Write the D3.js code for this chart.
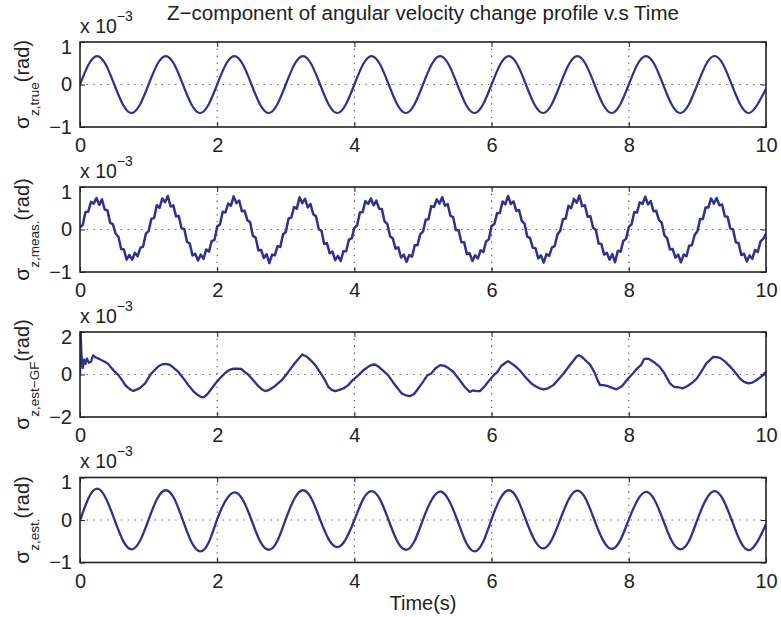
<!DOCTYPE html>
<html>
<head>
<meta charset="utf-8">
<script src="https://cdn.jsdelivr.net/npm/d3@7"></script>
<style>
  body { margin: 0; background: #fff; }
  text { font-family: "Liberation Sans", Arial, sans-serif; fill: #222; }
</style>
</head>
<body>
<svg id="chart" width="781" height="617"></svg>
<script>
// values in units of 1e-3 rad
var xTicks = [0, 2, 4, 6, 8, 10];

// true profile, sampled every 0.125 s
var trueVals = [
  0, .47, .67, .47, 0, -.47, -.67, -.47,
  0, .47, .67, .47, 0, -.47, -.67, -.47,
  0, .47, .67, .47, 0, -.47, -.67, -.47,
  0, .47, .67, .47, 0, -.47, -.67, -.47,
  0, .47, .67, .47, 0, -.47, -.67, -.47,
  0, .47, .67, .47, 0, -.47, -.67, -.47,
  0, .47, .67, .47, 0, -.47, -.67, -.47,
  0, .47, .67, .47, 0, -.47, -.67, -.47,
  0, .47, .67, .47, 0, -.47, -.67, -.47,
  0, .47, .67, .47, 0, -.47, -.67, -.47,
  -.1
];

// measured, every 0.04 s
var measVals = [
  .05, .11, .41, .42, .65, .61, .74, .58, .71, .47, .45, .16, .12, -.10, -.17, -.46, -.47, -.71, -.60, -.71, -.55, -.63, -.43, -.40, -.10,
  -.04, .25, .27, .57, .51, .73, .64, .79, .54, .57, .31, .32, .03, .01, -.29, -.33, -.61, -.57, -.73, -.59, -.69, -.47, -.52, -.27, -.25,
  .07, .12, .42, .40, .61, .56, .78, .62, .68, .43, .44, .22, .17, -.15, -.19, -.49, -.48, -.67, -.58, -.79, -.59, -.61, -.39, -.41, -.11,
  -.06, .26, .28, .53, .49, .76, .62, .72, .52, .60, .36, .31, .01, -.03, -.34, -.32, -.56, -.52, -.72, -.62, -.74, -.51, -.51, -.24, -.21,
  .04, .10, .40, .41, .67, .60, .73, .57, .68, .49, .48, .19, .13, -.16, -.21, -.45, -.42, -.66, -.59, -.76, -.60, -.64, -.37, -.37, -.11,
  -.05, .23, .24, .55, .53, .71, .61, .76, .56, .60, .32, .29, -.01, -.02, -.30, -.30, -.58, -.56, -.74, -.61, -.68, -.49, -.53, -.28, -.23,
  .08, .13, .38, .39, .66, .59, .79, .60, .66, .44, .46, .20, .14, -.17, -.20, -.43, -.44, -.68, -.61, -.78, -.58, -.62, -.42, -.39, -.12,
  -.03, .24, .26, .56, .50, .72, .63, .80, .55, .57, .30, .31, .04, -.01, -.33, -.34, -.59, -.55, -.71, -.58, -.77, -.50, -.52, -.27, -.22,
  .06, .12, .41, .40, .64, .60, .77, .59, .67, .43, .44, .22, .16, -.14, -.21, -.47, -.46, -.66, -.59, -.77, -.59, -.63, -.38, -.37, -.13,
  -.04, .25, .25, .52, .52, .73, .61, .74, .57, .59, .31, .30, .02, 0, -.30, -.32, -.60, -.57, -.75, -.61, -.69, -.48, -.53, -.28, -.22,
  -.1
];

// GF estimate, read at irregular times
var gfTime = [0, .01, .02, .04, .06, .08, .10, .13, .16, .19, .23, .27, .31, .36, .41, .46, .51, .56, .61, .66,
  .70, .75, .78, .83, .88, .95, 1.00, 1.04, 1.10, 1.15, 1.20, 1.26, 1.31, 1.37, 1.43, 1.50, 1.58, 1.65, 1.71, 1.76,
  1.80, 1.85, 1.92, 1.98, 2.06, 2.12, 2.18, 2.24, 2.30, 2.35, 2.40, 2.45, 2.52, 2.60, 2.66, 2.70, 2.76, 2.84, 2.94, 3.02,
  3.09, 3.16, 3.24, 3.30, 3.36, 3.43, 3.50, 3.56, 3.62, 3.67, 3.72, 3.78, 3.84, 3.91, 3.98, 4.06, 4.13, 4.20, 4.25, 4.30,
  4.36, 4.43, 4.49, 4.56, 4.63, 4.69, 4.75, 4.81, 4.87, 4.93, 5.00, 5.06, 5.12, 5.18, 5.25, 5.32, 5.38, 5.44, 5.52, 5.60,
  5.68, 5.73, 5.78, 5.83, 5.90, 5.96, 6.03, 6.08, 6.14, 6.20, 6.24, 6.30, 6.36, 6.41, 6.50, 6.58, 6.64, 6.70, 6.76, 6.82,
  6.90, 6.97, 7.05, 7.12, 7.18, 7.24, 7.27, 7.32, 7.39, 7.44, 7.50, 7.55, 7.58, 7.63, 7.68, 7.75, 7.82, 7.90, 7.99, 8.06,
  8.12, 8.18, 8.22, 8.26, 8.30, 8.38, 8.45, 8.52, 8.60, 8.66, 8.72, 8.79, 8.85, 8.92, 8.99, 9.06, 9.13, 9.19, 9.23, 9.28,
  9.33, 9.40, 9.48, 9.55, 9.62, 9.68, 9.74, 9.80, 9.86, 9.93, 10.0];
var gfVals = [0, 2.0, 1.0, .3, .7, .5, .75, .55, .6, .9, .8, .75, .68, .6, .5, .3, .12, -.03, -.25, -.5,
  -.62, -.74, -.77, -.70, -.62, -.42, -.15, .05, .25, .40, .48, .50, .45, .30, .13, -.15, -.50, -.78, -.95, -1.05,
  -1.08, -.95, -.66, -.40, -.11, .08, .22, .28, .27, .26, .12, 0, -.25, -.55, -.72, -.78, -.72, -.55, -.27, .05,
  .36, .65, .94, .85, .68, .44, .10, -.20, -.58, -.72, -.78, -.72, -.66, -.50, -.25, -.03, .20, .36, .45, .47,
  .35, .15, -.03, -.35, -.65, -.89, -.98, -1.02, -.92, -.66, -.35, -.05, .05, .28, .44, .40, .28, .13, -.20, -.55,
  -.82, -.75, -.78, -.78, -.55, -.30, -.03, .10, .40, .55, .63, .50, .35, .20, -.15, -.42, -.55, -.65, -.70, -.65,
  -.50, -.25, .05, .35, .60, .85, .91, .82, .60, .44, .10, -.30, -.50, -.50, -.53, -.62, -.70, -.55, -.19, .05,
  .28, .45, .72, .75, .72, .55, .36, .05, -.42, -.58, -.60, -.65, -.55, -.40, -.19, .15, .52, .70, .83, .82,
  .78, .62, .36, .10, -.19, -.35, -.42, -.38, -.27, -.10, .13];

// final estimate, every 0.125 s
var estVals = [
  -.02, .52, .74, .52, .02, -.48, -.69, -.49,
  .01, .50, .70, .50, -.01, -.52, -.74, -.53,
  .02, .46, .65, .47, 0, -.50, -.70, -.50,
  .02, .50, .70, .50, .01, -.45, -.64, -.45,
  0, .48, .68, .48, -.01, -.50, -.70, -.50,
  .01, .47, .67, .47, 0, -.52, -.74, -.52,
  .02, .50, .70, .50, 0, -.47, -.67, -.47,
  .01, .49, .69, .49, -.01, -.48, -.68, -.48,
  .01, .46, .66, .47, 0, -.49, -.69, -.50,
  .01, .48, .68, .48, 0, -.50, -.71, -.51,
  -.1
];

var steps125 = d3.range(0, 10.0001, 0.125);
var steps04 = d3.range(0, 10.0001, 0.04);

var panels = [
  {sub: "z,true",   yTicks: [-1, 0, 1], t: steps125, v: trueVals, curve: d3.curveNatural, w: 2.2, top: 42},
  {sub: "z,meas.",  yTicks: [-1, 0, 1], t: steps04,  v: measVals, curve: d3.curveLinear, w: 2.5, top: 187},
  {sub: "z,est\u2212GF", yTicks: [-2, 0, 2], t: gfTime, v: gfVals, curve: d3.curveLinear, w: 2.3, top: 332},
  {sub: "z,est.",   yTicks: [-1, 0, 1], t: steps125, v: estVals, curve: d3.curveNatural, w: 2.3, top: 477.5}
];

var left = 80, right = 766, ph = 85;
var svg = d3.select("#chart");
var lineColor = "#2d3190";
var fmt = function(d) { return d < 0 ? "\u2212" + (-d) : String(d); };

var x = d3.scaleLinear().domain([0, 10]).range([left, right]);

svg.append("text")
  .attr("x", (left + right) / 2).attr("y", 20)
  .attr("text-anchor", "middle")
  .style("font-size", "20.5px")
  .text("Z\u2212component of angular velocity change profile v.s Time");

panels.forEach(function(p, i) {
  var top = p.top, bottom = p.top + ph;
  var y = d3.scaleLinear().domain([p.yTicks[0], p.yTicks[2]]).range([bottom, top]);
  var g = svg.append("g");

  // grid
  g.selectAll(".vgrid").data(xTicks.slice(1, -1)).enter().append("line")
    .attr("x1", d => x(d)).attr("x2", d => x(d))
    .attr("y1", top).attr("y2", bottom)
    .attr("stroke", "#555").attr("stroke-width", 1.2).attr("stroke-dasharray", "1.3,5.5");
  g.append("line")
    .attr("x1", left).attr("x2", right)
    .attr("y1", y(0)).attr("y2", y(0))
    .attr("stroke", "#555").attr("stroke-width", 1.2).attr("stroke-dasharray", "1.3,5.5");

  // data line
  var clipId = "clip" + i;
  svg.append("clipPath").attr("id", clipId).append("rect")
    .attr("x", left).attr("y", top - 1).attr("width", right - left).attr("height", ph + 2);
  var line = d3.line()
    .x((d, j) => x(p.t[j]))
    .y(d => y(d))
    .curve(p.curve);
  g.append("path")
    .attr("clip-path", "url(#" + clipId + ")")
    .attr("d", line(p.v))
    .attr("fill", "none")
    .attr("stroke", lineColor)
    .attr("stroke-width", p.w)
    .attr("stroke-linejoin", "round");

  // axes
  var ax = g.append("g").attr("transform", "translate(0," + bottom + ")")
    .call(d3.axisBottom(x).tickValues(xTicks).tickSize(-5).tickSizeOuter(0).tickPadding(11).tickFormat(fmt));
  var axTop = g.append("g").attr("transform", "translate(0," + top + ")")
    .call(d3.axisTop(x).tickValues(xTicks).tickSize(-5).tickSizeOuter(0).tickFormat(""));
  var ay = g.append("g").attr("transform", "translate(" + left + ",0)")
    .call(d3.axisLeft(y).tickValues(p.yTicks).tickSize(-5).tickSizeOuter(0).tickPadding(8).tickFormat(fmt));
  var ayR = g.append("g").attr("transform", "translate(" + right + ",0)")
    .call(d3.axisRight(y).tickValues(p.yTicks).tickSize(-5).tickSizeOuter(0).tickFormat(""));
  [ax, axTop, ay, ayR].forEach(function(a) {
    a.select(".domain").remove();
    a.selectAll(".tick line").attr("stroke", "#222").attr("stroke-width", 1);
    a.selectAll("text").attr("fill", "#222").style("font-size", "20px").attr("font-family", null);
  });
  ay.selectAll(".tick text").filter(d => d === p.yTicks[2]).attr("dy", "0.55em");

  g.append("rect")
    .attr("x", left).attr("y", top).attr("width", right - left).attr("height", ph)
    .attr("fill", "none").attr("stroke", "#222").attr("stroke-width", 1.6);

  // exponent
  var ex = g.append("text").attr("x", left).attr("y", top - 9.5).style("font-size", "19.5px");
  ex.append("tspan").text("x 10");
  ex.append("tspan").attr("dy", -12).style("font-size", "14px").text("\u22123");

  // y label
  var yl = g.append("text")
    .attr("transform", "translate(29," + (top + ph / 2) + ") rotate(-90)")
    .attr("text-anchor", "middle")
    .style("font-size", "20px");
  yl.append("tspan").style("font-size", "21px").text("\u03c3");
  yl.append("tspan").attr("dy", 10).style("font-size", "13.5px").text(p.sub);
  yl.append("tspan").attr("dy", -10).text("(rad)");
});

svg.append("text")
  .attr("x", (left + right) / 2).attr("y", 610)
  .attr("text-anchor", "middle")
  .style("font-size", "20px")
  .text("Time(s)");
</script>
</body>
</html>
